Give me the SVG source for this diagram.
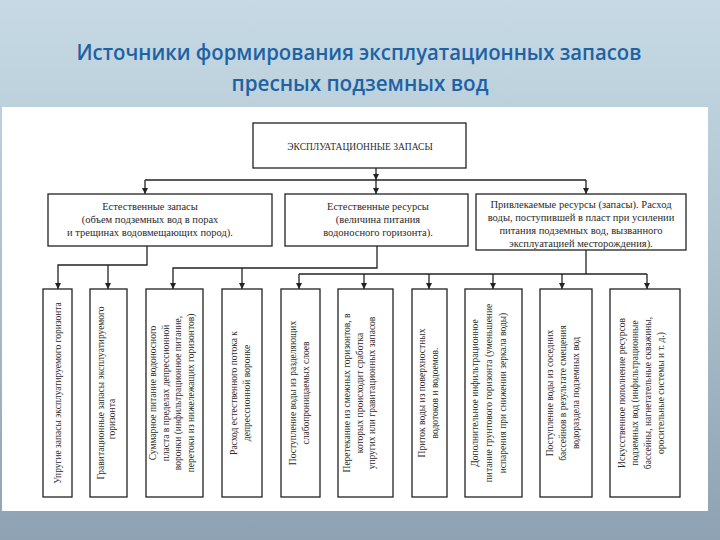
<svg xmlns="http://www.w3.org/2000/svg" width="720" height="540" viewBox="0 0 720 540">
<defs>
<linearGradient id="bg" x1="0" y1="0" x2="0" y2="1">
<stop offset="0" stop-color="#c6d9e5"/>
<stop offset="0.2" stop-color="#bdd1dc"/>
<stop offset="1" stop-color="#8ea2b3"/>
</linearGradient>
<marker id="ah" viewBox="0 0 10 10" refX="10" refY="5" markerWidth="6" markerHeight="6" markerUnits="userSpaceOnUse" orient="auto">
<path d="M0,0 L10,5 L0,10 z" fill="#222"/>
</marker>
<style>
.t{font-family:"Open Sans","Noto Sans",sans-serif;font-weight:600;font-size:21px;fill:#1d62a3;text-anchor:middle}
.b{fill:#fff;stroke:#222;stroke-width:1.3}
.s{font-family:"Liberation Serif","Times New Roman",serif;font-size:10.5px;fill:#2a2a2a;text-anchor:middle}
.h{font-family:"Liberation Serif","Times New Roman",serif;font-size:9.5px;fill:#2a2a2a;text-anchor:middle}
.v{font-family:"Liberation Serif","Times New Roman",serif;font-size:9.5px;fill:#2a2a2a;text-anchor:middle}
.c{fill:none;stroke:#222;stroke-width:1.3}
</style>
</defs>
<rect width="720" height="540" fill="url(#bg)"/>
<text class="t" x="359" y="60" textLength="565" lengthAdjust="spacingAndGlyphs">Источники формирования эксплуатационных запасов</text>
<text class="t" x="360" y="91" textLength="257" lengthAdjust="spacingAndGlyphs">пресных подземных вод</text>
<rect x="2" y="107" width="706" height="404" fill="#fff"/>

<g id="connectors">
<path class="c" d="M376,168 V180" marker-end="url(#ah)"/>
<path class="c" d="M145,180 H586"/>
<path class="c" d="M145,180 V194" marker-end="url(#ah)"/>
<path class="c" d="M376,180 V194" marker-end="url(#ah)"/>
<path class="c" d="M586,180 V194" marker-end="url(#ah)"/>
<path class="c" d="M147,246 V265 H58 V289" marker-end="url(#ah)"/>
<path class="c" d="M108,265 V289" marker-end="url(#ah)"/>
<path class="c" d="M377,246 V268 H173 V289" marker-end="url(#ah)"/>
<path class="c" d="M242,268 V289" marker-end="url(#ah)"/>
<path class="c" d="M586,250 V274"/>
<path class="c" d="M299,274 H647"/>
<path class="c" d="M299,274 V289" marker-end="url(#ah)"/>
<path class="c" d="M364,274 V289" marker-end="url(#ah)"/>
<path class="c" d="M429,274 V289" marker-end="url(#ah)"/>
<path class="c" d="M493,274 V289" marker-end="url(#ah)"/>
<path class="c" d="M562,274 V289" marker-end="url(#ah)"/>
<path class="c" d="M647,274 V289" marker-end="url(#ah)"/>
</g>

<g id="root">
<rect class="b" x="253" y="123" width="213" height="45"/>
<text class="h" x="360" y="150">ЭКСПЛУАТАЦИОННЫЕ ЗАПАСЫ</text>
</g>

<g id="natural-reserves">
<rect class="b" x="48" y="194" width="224" height="52"/>
<text class="s" x="150" y="210">Естественные запасы</text>
<text class="s" x="150" y="223">(объем подземных вод в порах</text>
<text class="s" x="150" y="236">и трещинах водовмещающих пород).</text>
</g>

<g id="natural-resources">
<rect class="b" x="285" y="194" width="183" height="52"/>
<text class="s" x="378" y="210">Естественные ресурсы</text>
<text class="s" x="378" y="223">(величина питания</text>
<text class="s" x="378" y="236">водоносного горизонта).</text>
</g>

<g id="attracted-resources">
<rect class="b" x="476" y="194" width="210" height="56"/>
<text class="s" x="581" y="208">Привлекаемые ресурсы (запасы). Расход</text>
<text class="s" x="581" y="221">воды, поступившей в пласт при усилении</text>
<text class="s" x="581" y="234">питания подземных вод, вызванного</text>
<text class="s" x="581" y="247">эксплуатацией месторождения).</text>
</g>

<g id="b1">
<rect class="b" x="43" y="289" width="29" height="208"/>
<text class="v" transform="translate(61,393) rotate(-90)">Упругие запасы эксплуатируемого горизонта</text>
</g>
<g id="b2">
<rect class="b" x="90" y="289" width="37" height="208"/>
<text class="v" transform="translate(104,393) rotate(-90)"><tspan x="0" y="0">Гравитационные запасы эксплуатируемого</tspan><tspan x="-26" y="11">горизонта</tspan></text>
</g>
<g id="b3">
<rect class="b" x="146" y="289" width="57" height="208"/>
<text class="v" transform="translate(156,393) rotate(-90)"><tspan x="0" y="0">Суммарное питание водоносного</tspan><tspan x="0" y="12.5">пласта в пределах депрессионной</tspan><tspan x="0" y="25">воронки (инфильтрационное питание,</tspan><tspan x="0" y="37.5">перетоки из нижележащих горизонтов)</tspan></text>
</g>
<g id="b4">
<rect class="b" x="222" y="289" width="40" height="208"/>
<text class="v" transform="translate(237,393) rotate(-90)"><tspan x="0" y="0">Расход естественного потока к</tspan><tspan x="0" y="12.5">депрессионной воронке</tspan></text>
</g>
<g id="b5">
<rect class="b" x="281" y="289" width="39" height="208"/>
<text class="v" transform="translate(296,393) rotate(-90)"><tspan x="0" y="0">Поступление воды из разделяющих</tspan><tspan x="0" y="12.5">слабопроницаемых слоев</tspan></text>
</g>
<g id="b6">
<rect class="b" x="338" y="289" width="55" height="208"/>
<text class="v" transform="translate(350,393) rotate(-90)"><tspan x="0" y="0">Перетекание из смежных горизонтов, в</tspan><tspan x="0" y="12.5">которых происходит сработка</tspan><tspan x="0" y="25">упругих или гравитационных запасов</tspan></text>
</g>
<g id="b7">
<rect class="b" x="412" y="289" width="35" height="208"/>
<text class="v" transform="translate(425,393) rotate(-90)"><tspan x="0" y="0">Приток воды из поверхностных</tspan><tspan x="0" y="12.5">водотоков и водоемов.</tspan></text>
</g>
<g id="b8">
<rect class="b" x="465" y="289" width="57" height="208"/>
<text class="v" transform="translate(478,393) rotate(-90)"><tspan x="0" y="0">Дополнительное инфильтрационное</tspan><tspan x="0" y="14">питание грунтового горизонта (уменьшение</tspan><tspan x="0" y="28">испарения при снижении зеркала воды)</tspan></text>
</g>
<g id="b9">
<rect class="b" x="540" y="289" width="52" height="208"/>
<text class="v" transform="translate(553,393) rotate(-90)"><tspan x="0" y="0">Поступление воды из соседних</tspan><tspan x="0" y="13">бассейнов в результате смещения</tspan><tspan x="0" y="26">водораздела подземных вод</tspan></text>
</g>
<g id="b10">
<rect class="b" x="610" y="289" width="70" height="208"/>
<text class="v" transform="translate(625,393) rotate(-90)"><tspan x="0" y="0">Искусственное пополнение ресурсов</tspan><tspan x="0" y="13">подземных вод (инфильтрационные</tspan><tspan x="0" y="26">бассейны, нагнетательные скважины,</tspan><tspan x="0" y="39">оросительные системы и т. д.)</tspan></text>
</g>
</svg>
